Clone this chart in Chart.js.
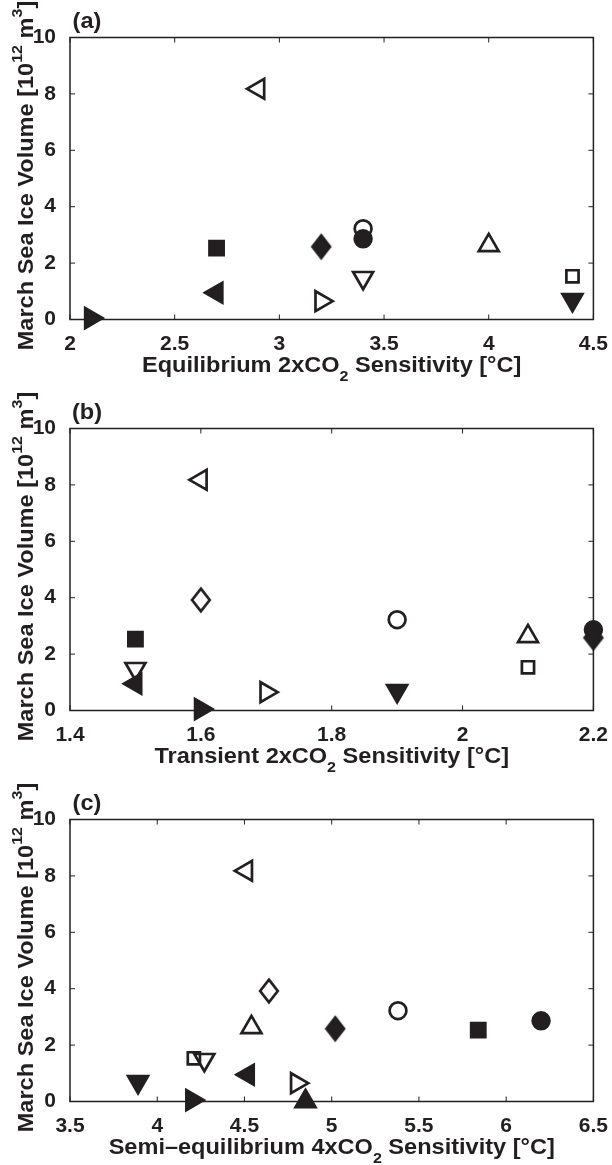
<!DOCTYPE html>
<html>
<head>
<meta charset="utf-8">
<script src="https://cdn.jsdelivr.net/npm/chart.js@4/dist/chart.umd.min.js"></script>
<style>
  body { margin: 0; background: #fff; overflow: hidden; width: 612px; height: 1165px; }
  .panel { position: absolute; left: 0; width: 612px; height: 391px; }
</style>
</head>
<body>
<div class="panel" style="top:0"><canvas id="chartA" width="612" height="391"></canvas></div>
<div class="panel" style="top:391px"><canvas id="chartB" width="612" height="391"></canvas></div>
<div class="panel" style="top:782px"><canvas id="chartC" width="612" height="391"></canvas></div>
<script>
// one entry per model, identified by its marker
const markerNames = ['rightFilled', 'leftFilled', 'squareFilled', 'leftOpen', 'diamondFilled', 'rightOpen',
  'circleOpen', 'circleFilled', 'downOpen', 'upOpen', 'squareOpen', 'downFilled', 'diamondOpen', 'upFilled'];

// March sea ice volume [10^12 m^3]
const iceVolume = [0.05, 0.95, 2.53, 8.18, 2.58, 0.65, 3.22, 2.86, 1.48, 2.63, 1.53, 0.7, 3.92, 0.0];

// sensitivities [degC], null = model not in that panel
const equilibrium2x = [2.1, 2.7, 2.7, 2.9, 3.2, 3.2, 3.4, 3.4, 3.4, 4.0, 4.4, 4.4, null, null];
const transient2x = [1.6, 1.5, 1.5, 1.6, 2.2, 1.7, 1.9, 2.2, 1.5, 2.1, 2.1, 1.9, 1.6, null];
const semiEquilibrium4x = [4.2, 4.52, 5.84, 4.51, 5.02, 4.8, 5.38, 6.2, 4.27, 4.54, 4.21, 3.89, 4.64, 4.85];

const yTicks = [0, 2, 4, 6, 8, 10];
const xTicksA = [2, 2.5, 3, 3.5, 4, 4.5];
const xTicksB = [1.4, 1.6, 1.8, 2, 2.2];
const xTicksC = [3.5, 4, 4.5, 5, 5.5, 6, 6.5];

const INK = '#231f20';
const FONT = '"Liberation Sans", Arial, sans-serif';
const STRETCH = 1.07; // reference lettering is a bit wider than Liberation

// taller-than-wide MATLAB diamond as a small canvas
function diamondCanvas(filled) {
  const c = document.createElement('canvas');
  c.width = 26; c.height = 32;
  const g = c.getContext('2d');
  g.beginPath();
  g.moveTo(13, 16 - 11.3);
  g.lineTo(13 + 8.8, 16);
  g.lineTo(13, 16 + 11.3);
  g.lineTo(13 - 8.8, 16);
  g.closePath();
  g.lineWidth = 2.7;
  g.strokeStyle = INK;
  g.fillStyle = INK;
  if (filled) g.fill();
  g.stroke();
  return c;
}

const markerStyles = {
  rightFilled: { style: 'triangle', rot: 90, r: 11.5, fill: true },
  leftFilled: { style: 'triangle', rot: 270, r: 11.5, fill: true },
  upFilled: { style: 'triangle', rot: 0, r: 11.5, fill: true },
  downFilled: { style: 'triangle', rot: 180, r: 11.5, fill: true },
  rightOpen: { style: 'triangle', rot: 90, r: 11.5, fill: false },
  leftOpen: { style: 'triangle', rot: 270, r: 11.5, fill: false },
  upOpen: { style: 'triangle', rot: 0, r: 11.5, fill: false },
  downOpen: { style: 'triangle', rot: 180, r: 11.5, fill: false },
  squareFilled: { style: 'rect', rot: 0, r: 10, fill: true },
  squareOpen: { style: 'rect', rot: 0, r: 8.6, fill: false },
  circleFilled: { style: 'circle', rot: 0, r: 8.4, fill: true },
  circleOpen: { style: 'circle', rot: 0, r: 8.4, fill: false },
  diamondFilled: { style: diamondCanvas(true), rot: 0, r: 12, fill: true },
  diamondOpen: { style: diamondCanvas(false), rot: 0, r: 12, fill: false }
};

function buildDatasets(xs) {
  const sets = [];
  markerNames.forEach((name, i) => {
    if (xs[i] === null) return;
    const m = markerStyles[name];
    sets.push({
      label: name,
      data: [{ x: xs[i], y: iceVolume[i] }],
      pointStyle: m.style,
      rotation: m.rot,
      pointRadius: m.r,
      pointHoverRadius: m.r,
      borderWidth: 2.7,
      borderColor: INK,
      backgroundColor: m.fill ? INK : 'rgba(0,0,0,0)',
      clip: false
    });
  });
  return sets;
}

// draws pieces of text (with raised / lowered parts) centred on cx, cy
function drawParts(ctx, parts, cx, cy) {
  let total = 0;
  parts.forEach(p => {
    ctx.font = `bold ${p.size}px ${FONT}`;
    p.w = ctx.measureText(p.text).width;
    total += p.w;
  });
  ctx.save();
  ctx.translate(cx, cy);
  ctx.scale(STRETCH, 1);
  let x = -total / 2;
  parts.forEach(p => {
    ctx.font = `bold ${p.size}px ${FONT}`;
    ctx.fillText(p.text, x, -(p.rise || 0));
    x += p.w;
  });
  ctx.restore();
}

// box, inward ticks on all four sides, titles with sub/superscripts
const framePlugin = {
  id: 'frame',
  beforeDatasetsDraw(chart) {
    const { ctx, chartArea: a, scales: { x, y } } = chart;
    ctx.save();
    ctx.strokeStyle = INK;
    ctx.lineWidth = 1;
    ctx.beginPath();
    x.ticks.forEach(t => {
      const px = x.getPixelForValue(t.value);
      ctx.moveTo(px, a.bottom); ctx.lineTo(px, a.bottom - 5);
      ctx.moveTo(px, a.top); ctx.lineTo(px, a.top + 5);
    });
    y.ticks.forEach(t => {
      const py = y.getPixelForValue(t.value);
      ctx.moveTo(a.left, py); ctx.lineTo(a.left + 5, py);
      ctx.moveTo(a.right, py); ctx.lineTo(a.right - 5, py);
    });
    ctx.stroke();
    ctx.lineWidth = 1.5;
    ctx.strokeRect(a.left, a.top, a.right - a.left, a.bottom - a.top);
    ctx.restore();
  },
  afterDraw(chart, args, opts) {
    const { ctx, chartArea: a } = chart;
    ctx.save();
    ctx.fillStyle = INK;
    ctx.textBaseline = 'alphabetic';
    ctx.textAlign = 'left';
    drawParts(ctx, [{ text: opts.panel, size: 22 }], 87, 27.5);
    drawParts(ctx, opts.xTitle, (a.left + a.right) / 2, 371.5);
    ctx.translate(33, (a.top + a.bottom) / 2 - 3);
    ctx.rotate(-Math.PI / 2);
    drawParts(ctx, [
      { text: 'March Sea Ice Volume [10', size: 22 },
      { text: '12', size: 15, rise: 11 },
      { text: ' m', size: 22 },
      { text: '3', size: 15, rise: 11 },
      { text: ']', size: 22 }
    ], 0, 0);
    ctx.restore();
  }
};

function makeChart(id, xs, xMin, xMax, xTicks, panel, xTitle) {
  const tickFont = { family: FONT, weight: 'bold', size: 21 };
  return new Chart(document.getElementById(id), {
    type: 'scatter',
    data: { datasets: buildDatasets(xs) },
    options: {
      responsive: false,
      animation: false,
      events: [],
      layout: { padding: { left: 0, right: 18, top: 37.5, bottom: 0 } },
      scales: {
        x: {
          type: 'linear', min: xMin, max: xMax,
          afterBuildTicks: s => { s.ticks = xTicks.map(v => ({ value: v })); },
          afterFit: s => { s.height = 71.5; },
          grid: { display: false }, border: { display: false },
          ticks: { font: tickFont, color: INK, padding: 4, maxRotation: 0, autoSkip: false,
            callback: v => String(v) }
        },
        y: {
          type: 'linear', min: 0, max: 10,
          afterBuildTicks: s => { s.ticks = yTicks.map(v => ({ value: v })); },
          afterFit: s => { s.width = 70; },
          grid: { display: false }, border: { display: false },
          ticks: { font: tickFont, color: INK, padding: 6, callback: v => String(v) }
        }
      },
      plugins: {
        legend: { display: false },
        tooltip: { enabled: false },
        frame: { panel: panel, xTitle: xTitle }
      }
    },
    plugins: [framePlugin]
  });
}

function sensTitle(before) {
  return [
    { text: before, size: 22 },
    { text: '2', size: 15, rise: -9 },
    { text: ' Sensitivity [\u00b0C]', size: 22 }
  ];
}

makeChart('chartA', equilibrium2x, 2, 4.5, xTicksA, '(a)', sensTitle('Equilibrium 2xCO'));
makeChart('chartB', transient2x, 1.4, 2.2, xTicksB, '(b)', sensTitle('Transient 2xCO'));
makeChart('chartC', semiEquilibrium4x, 3.5, 6.5, xTicksC, '(c)', sensTitle('Semi\u2013equilibrium 4xCO'));
</script>
</body>
</html>
